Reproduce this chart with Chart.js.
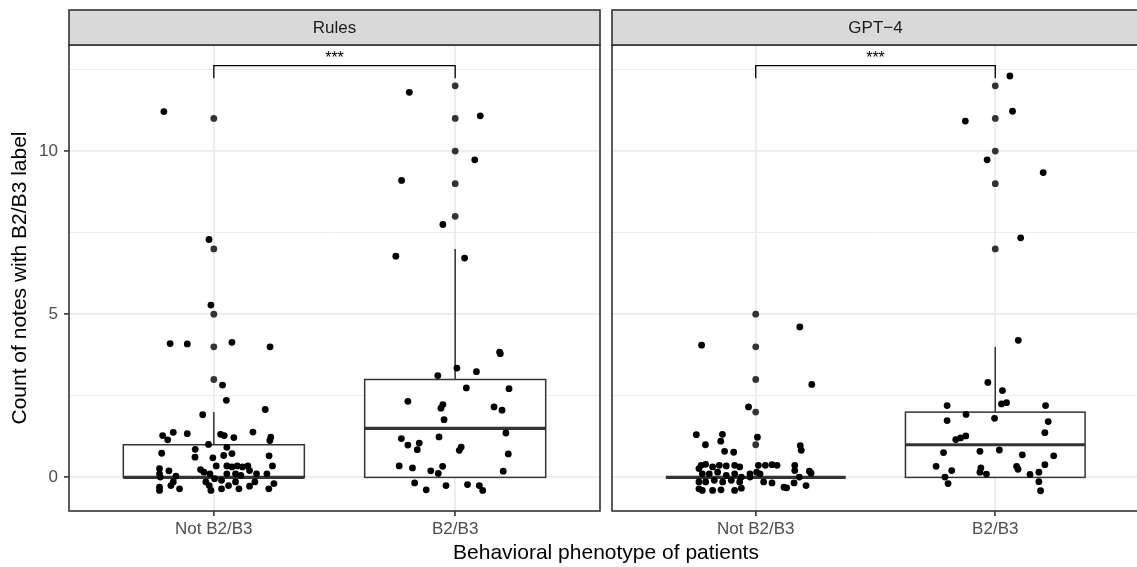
<!DOCTYPE html>
<html>
<head>
<meta charset="utf-8">
<script src="https://cdn.jsdelivr.net/npm/chart.js@4.4.1/dist/chart.umd.min.js"></script>
<style>
body { margin: 0; width: 1137px; height: 567px; overflow: hidden; background: #fff; position: relative; font-family: "Liberation Sans", Arial, sans-serif; }
canvas { position: absolute; top: 0; }
#left { left: 0; }
#right { left: 606px; }
#xtitle { position: absolute; left: 0; width: 1212px; top: 541px; text-align: center; font-size: 21px; line-height: 21px; color: #000; }
</style>
</head>
<body>
<canvas id="left" width="606" height="567"></canvas>
<canvas id="right" width="537" height="567"></canvas>
<div id="xtitle">Behavioral phenotype of patients</div>
<script>
var categories = ['Not B2/B3', 'B2/B3'];
var panels = ['Rules', 'GPT\u22124'];
var yTicks = [0, 2.5, 5, 7.5, 10, 12.5];

// boxplot stats per category: [lower whisker, q1, median, q3, upper whisker]
var rulesBox = [[0, 0, 0, 1, 2], [0, 0, 1.5, 3, 7]];
var gptBox = [[0, 0, 0, 0, 0], [0, 0, 1, 2, 4]];

// boxplot outliers
var rulesOutliers = [[3, 4, 5, 7, 11], [8, 9, 10, 11, 12]];
var gptOutliers = [[1, 2, 3, 4, 5], [7, 9, 10, 11, 12]];

// jittered points [x, y]
var rulesNot = [
  [0.793, 11.21], [0.98, 7.29], [0.988, 5.28], [0.819, 4.10], [0.89, 4.09], [1.075, 4.14], [1.233, 4.0],
  [1.036, 2.83], [1.052, 2.36], [1.213, 2.08], [0.954, 1.92],
  [0.788, 1.28], [0.809, 1.15], [0.832, 1.38], [0.89, 1.34], [1.028, 1.32], [1.043, 1.28], [1.083, 1.22],
  [1.162, 1.39], [1.236, 1.23], [1.232, 1.13],
  [0.978, 1.01], [1.054, 0.92], [0.784, 0.74], [0.923, 0.86], [0.922, 0.62], [0.996, 0.60], [1.041, 0.67],
  [1.075, 0.73], [1.229, 0.66], [1.243, 0.35],
  [0.775, 0.27], [0.775, 0.11], [0.814, 0.20], [0.778, 0.01], [0.843, 0.04], [0.822, -0.25], [0.858, -0.35],
  [0.775, -0.40], [0.775, -0.30], [0.832, -0.14], [0.945, 0.24], [0.959, 0.16], [0.984, 0.11], [1.01, 0.35],
  [0.967, -0.14], [0.981, -0.25], [0.988, -0.40], [1.032, -0.35], [1.032, -0.09], [1.054, 0.35], [1.075, 0.32],
  [1.097, 0.35], [1.119, 0.32], [1.141, 0.35], [1.054, 0.11], [1.09, 0.11], [1.112, 0.06], [1.148, 0.21],
  [1.177, 0.11], [1.22, 0.11], [1.17, -0.14], [1.09, -0.14], [1.104, -0.35], [1.148, -0.27], [1.061, -0.25],
  [1.228, -0.35], [1.249, -0.19], [1.003, -0.04]
];
var rulesB = [
  [1.81, 11.8], [2.104, 11.08], [2.081, 9.73], [1.778, 9.10], [1.949, 7.75], [1.754, 6.78], [2.039, 6.72],
  [2.184, 3.84], [2.187, 3.79], [2.007, 3.35], [2.088, 3.24], [1.928, 3.12], [2.046, 2.74], [2.223, 2.72],
  [1.804, 2.33], [1.949, 2.23], [1.941, 2.12], [2.161, 2.16], [2.194, 2.06], [1.954, 1.77], [2.21, 1.36],
  [1.777, 1.19], [1.933, 1.24], [1.804, 0.99], [1.851, 1.05], [1.843, 0.85], [2.025, 0.93], [2.017, 0.83],
  [2.22, 0.72], [1.768, 0.35], [1.823, 0.29], [1.948, 0.34], [1.899, 0.20], [1.93, 0.12], [2.199, 0.19],
  [1.832, -0.17], [1.88, -0.38], [1.962, -0.25], [2.051, -0.22], [2.1, -0.25], [2.114, -0.40]
];
var gptNot = [
  [0.774, 4.05], [1.184, 4.61], [1.234, 2.85], [0.97, 2.16], [0.752, 1.31], [0.79, 1.0], [0.861, 1.32],
  [0.854, 1.11], [0.87, 0.80], [0.908, 0.77], [1.007, 1.23], [1.186, 0.97], [1.19, 0.83],
  [0.772, 0.37], [0.763, 0.27], [0.791, 0.40], [0.82, 0.32], [0.848, 0.37], [0.877, 0.35], [0.912, 0.37],
  [0.933, 0.32], [0.777, 0.11], [0.806, 0.11], [0.841, 0.16], [0.877, 0.06], [0.912, 0.11], [0.94, 0.01],
  [0.763, -0.14], [0.791, -0.14], [0.827, -0.09], [0.862, -0.14], [0.898, -0.09], [0.933, -0.14],
  [0.763, -0.35], [0.777, -0.40], [0.82, -0.40], [0.855, -0.38], [0.912, -0.40], [0.94, -0.33],
  [0.976, 0.11], [1.011, 0.37], [1.04, 0.37], [1.068, 0.39], [1.089, 0.37], [1.018, 0.11], [1.033, -0.14],
  [1.068, -0.17], [1.118, -0.30], [1.129, -0.32], [1.16, -0.17], [1.163, 0.37], [1.163, 0.21], [1.182, 0.01],
  [1.21, -0.25], [1.224, 0.19], [1.231, 0.13], [0.976, 0.01], [1.004, 0.16]
];
var gptB = [
  [2.061, 12.30], [2.072, 11.22], [1.875, 10.92], [1.966, 9.73], [2.2, 9.34], [2.106, 7.34],
  [2.096, 4.20], [1.969, 2.91], [2.03, 2.66], [2.026, 2.25], [2.047, 2.29], [1.799, 2.20], [2.21, 2.2],
  [1.878, 1.93], [1.997, 1.81], [1.799, 1.74], [2.221, 1.71], [2.207, 1.37], [1.877, 1.27], [1.855, 1.21],
  [1.835, 1.16], [1.784, 0.76], [1.936, 0.80], [2.017, 0.84], [2.113, 0.69], [2.244, 0.66], [1.753, 0.34],
  [1.818, 0.21], [1.94, 0.29], [1.936, 0.16], [1.963, 0.10], [2.089, 0.34], [2.095, 0.25], [2.207, 0.39],
  [2.145, 0.09], [2.182, 0.16], [1.79, 0.01], [1.803, -0.19], [2.182, -0.13], [2.189, -0.41]
];

// significance bracket: leg bottom, bar height
var sigBracket = [12.23, 12.62];
var sigLabel = '***';

var fontFam = '"Liberation Sans", Arial, sans-serif';

var facetPlugin = {
  id: 'facet',
  beforeDatasetsDraw: function(chart, args, opts) {
    var ctx = chart.ctx, x = chart.scales.x, y = chart.scales.y;
    ctx.save();
    opts.boxes.forEach(function(b, i) {
      var c = i + 1;
      var l = x.getPixelForValue(c - 0.375), r = x.getPixelForValue(c + 0.375), m = x.getPixelForValue(c);
      ctx.strokeStyle = '#333';
      ctx.lineWidth = 1.5;
      ctx.beginPath();
      ctx.moveTo(m, y.getPixelForValue(b[3]));
      ctx.lineTo(m, y.getPixelForValue(b[4]));
      ctx.moveTo(m, y.getPixelForValue(b[1]));
      ctx.lineTo(m, y.getPixelForValue(b[0]));
      ctx.stroke();
      var t = y.getPixelForValue(b[3]), bt = y.getPixelForValue(b[1]);
      ctx.fillStyle = '#fff';
      ctx.fillRect(l, t, r - l, bt - t);
      ctx.strokeRect(l, t, r - l, bt - t);
      ctx.lineWidth = 3.2;
      ctx.beginPath();
      ctx.moveTo(l, y.getPixelForValue(b[2]));
      ctx.lineTo(r, y.getPixelForValue(b[2]));
      ctx.stroke();
    });
    ctx.restore();
  },
  afterDatasetsDraw: function(chart, args, opts) {
    var ctx = chart.ctx, x = chart.scales.x, y = chart.scales.y;
    var x1 = x.getPixelForValue(1), x2 = x.getPixelForValue(2);
    var leg = y.getPixelForValue(sigBracket[0]), bar = y.getPixelForValue(sigBracket[1]);
    ctx.save();
    ctx.strokeStyle = '#000';
    ctx.lineWidth = 1.3;
    ctx.beginPath();
    ctx.moveTo(x1, leg); ctx.lineTo(x1, bar); ctx.lineTo(x2, bar); ctx.lineTo(x2, leg);
    ctx.stroke();
    ctx.fillStyle = '#000';
    ctx.font = '16px ' + fontFam;
    ctx.textAlign = 'center';
    ctx.textBaseline = 'alphabetic';
    ctx.fillText(sigLabel, (x1 + x2) / 2, bar - 3);
    ctx.restore();
  },
  afterDraw: function(chart, args, opts) {
    var ctx = chart.ctx, a = chart.chartArea;
    ctx.save();
    ctx.strokeStyle = '#333';
    ctx.lineWidth = 1.6;
    ctx.strokeRect(a.left, a.top, a.right - a.left, a.bottom - a.top);
    ctx.fillStyle = '#D9D9D9';
    ctx.fillRect(a.left, 10, a.right - a.left, a.top - 10);
    ctx.strokeRect(a.left, 10, a.right - a.left, a.top - 10);
    ctx.fillStyle = '#1A1A1A';
    ctx.font = '17px ' + fontFam;
    ctx.textAlign = 'center';
    ctx.textBaseline = 'middle';
    ctx.fillText(opts.title, (a.left + a.right) / 2, (10 + a.top) / 2 + 1);
    ctx.restore();
  }
};

function makePanel(id, title, box, outliers, groups, showY) {
  var outPts = [];
  outliers.forEach(function(vals, i) {
    vals.forEach(function(v) { outPts.push({ x: i + 1, y: v }); });
  });
  var jitPts = [];
  groups.forEach(function(g) {
    g.forEach(function(p) { jitPts.push({ x: p[0], y: p[1] }); });
  });
  var isMajor = function(ctx) { return ctx.tick && ctx.tick.value % 5 === 0; };
  return new Chart(document.getElementById(id), {
    type: 'scatter',
    data: {
      datasets: [
        { data: outPts, pointRadius: 3.4, pointBackgroundColor: '#333', pointBorderWidth: 0 },
        { data: jitPts, pointRadius: 3.4, pointBackgroundColor: '#000', pointBorderWidth: 0 }
      ]
    },
    options: {
      responsive: false,
      animation: false,
      events: [],
      layout: { padding: { top: 45, right: showY ? 6 : 0, left: showY ? 0 : 6, bottom: 0 } },
      plugins: {
        legend: { display: false },
        tooltip: { enabled: false },
        facet: { title: title, boxes: box }
      },
      scales: {
        x: {
          type: 'linear', min: 0.4, max: 2.6,
          afterBuildTicks: function(s) { s.ticks = categories.map(function(c, i) { return { value: i + 1 }; }); },
          afterFit: function(s) { s.height = 56; },
          ticks: {
            autoSkip: false, maxRotation: 0, padding: 3, color: '#4D4D4D',
            font: { family: fontFam, size: 17 },
            callback: function(v) { return categories[Math.round(v) - 1]; }
          },
          grid: { color: '#EBEBEB', lineWidth: 1.8, tickLength: 5, tickColor: '#333', tickWidth: 1.6 },
          border: { display: false }
        },
        y: {
          type: 'linear', min: -1.03, max: 13.25,
          afterBuildTicks: function(s) { s.ticks = yTicks.map(function(v) { return { value: v }; }); },
          afterFit: function(s) { s.width = showY ? 69 : 0; },
          ticks: {
            display: showY, padding: 6, color: '#4D4D4D',
            font: { family: fontFam, size: 17 },
            callback: function(v) { return v % 5 === 0 ? v : ''; }
          },
          grid: {
            color: '#EBEBEB',
            lineWidth: function(ctx) { return isMajor(ctx) ? 1.8 : 0.9; },
            drawTicks: showY,
            tickLength: 5,
            tickWidth: 1.6,
            tickColor: function(ctx) { return isMajor(ctx) ? '#333' : 'rgba(0,0,0,0)'; }
          },
          title: {
            display: showY, text: 'Count of notes with B2/B3 label', color: '#000',
            font: { family: fontFam, size: 21 }, padding: { top: 8, bottom: 0 }
          },
          border: { display: false }
        }
      }
    },
    plugins: [facetPlugin]
  });
}

makePanel('left', panels[0], rulesBox, rulesOutliers, [rulesNot, rulesB], true);
makePanel('right', panels[1], gptBox, gptOutliers, [gptNot, gptB], false);
</script>
</body>
</html>
